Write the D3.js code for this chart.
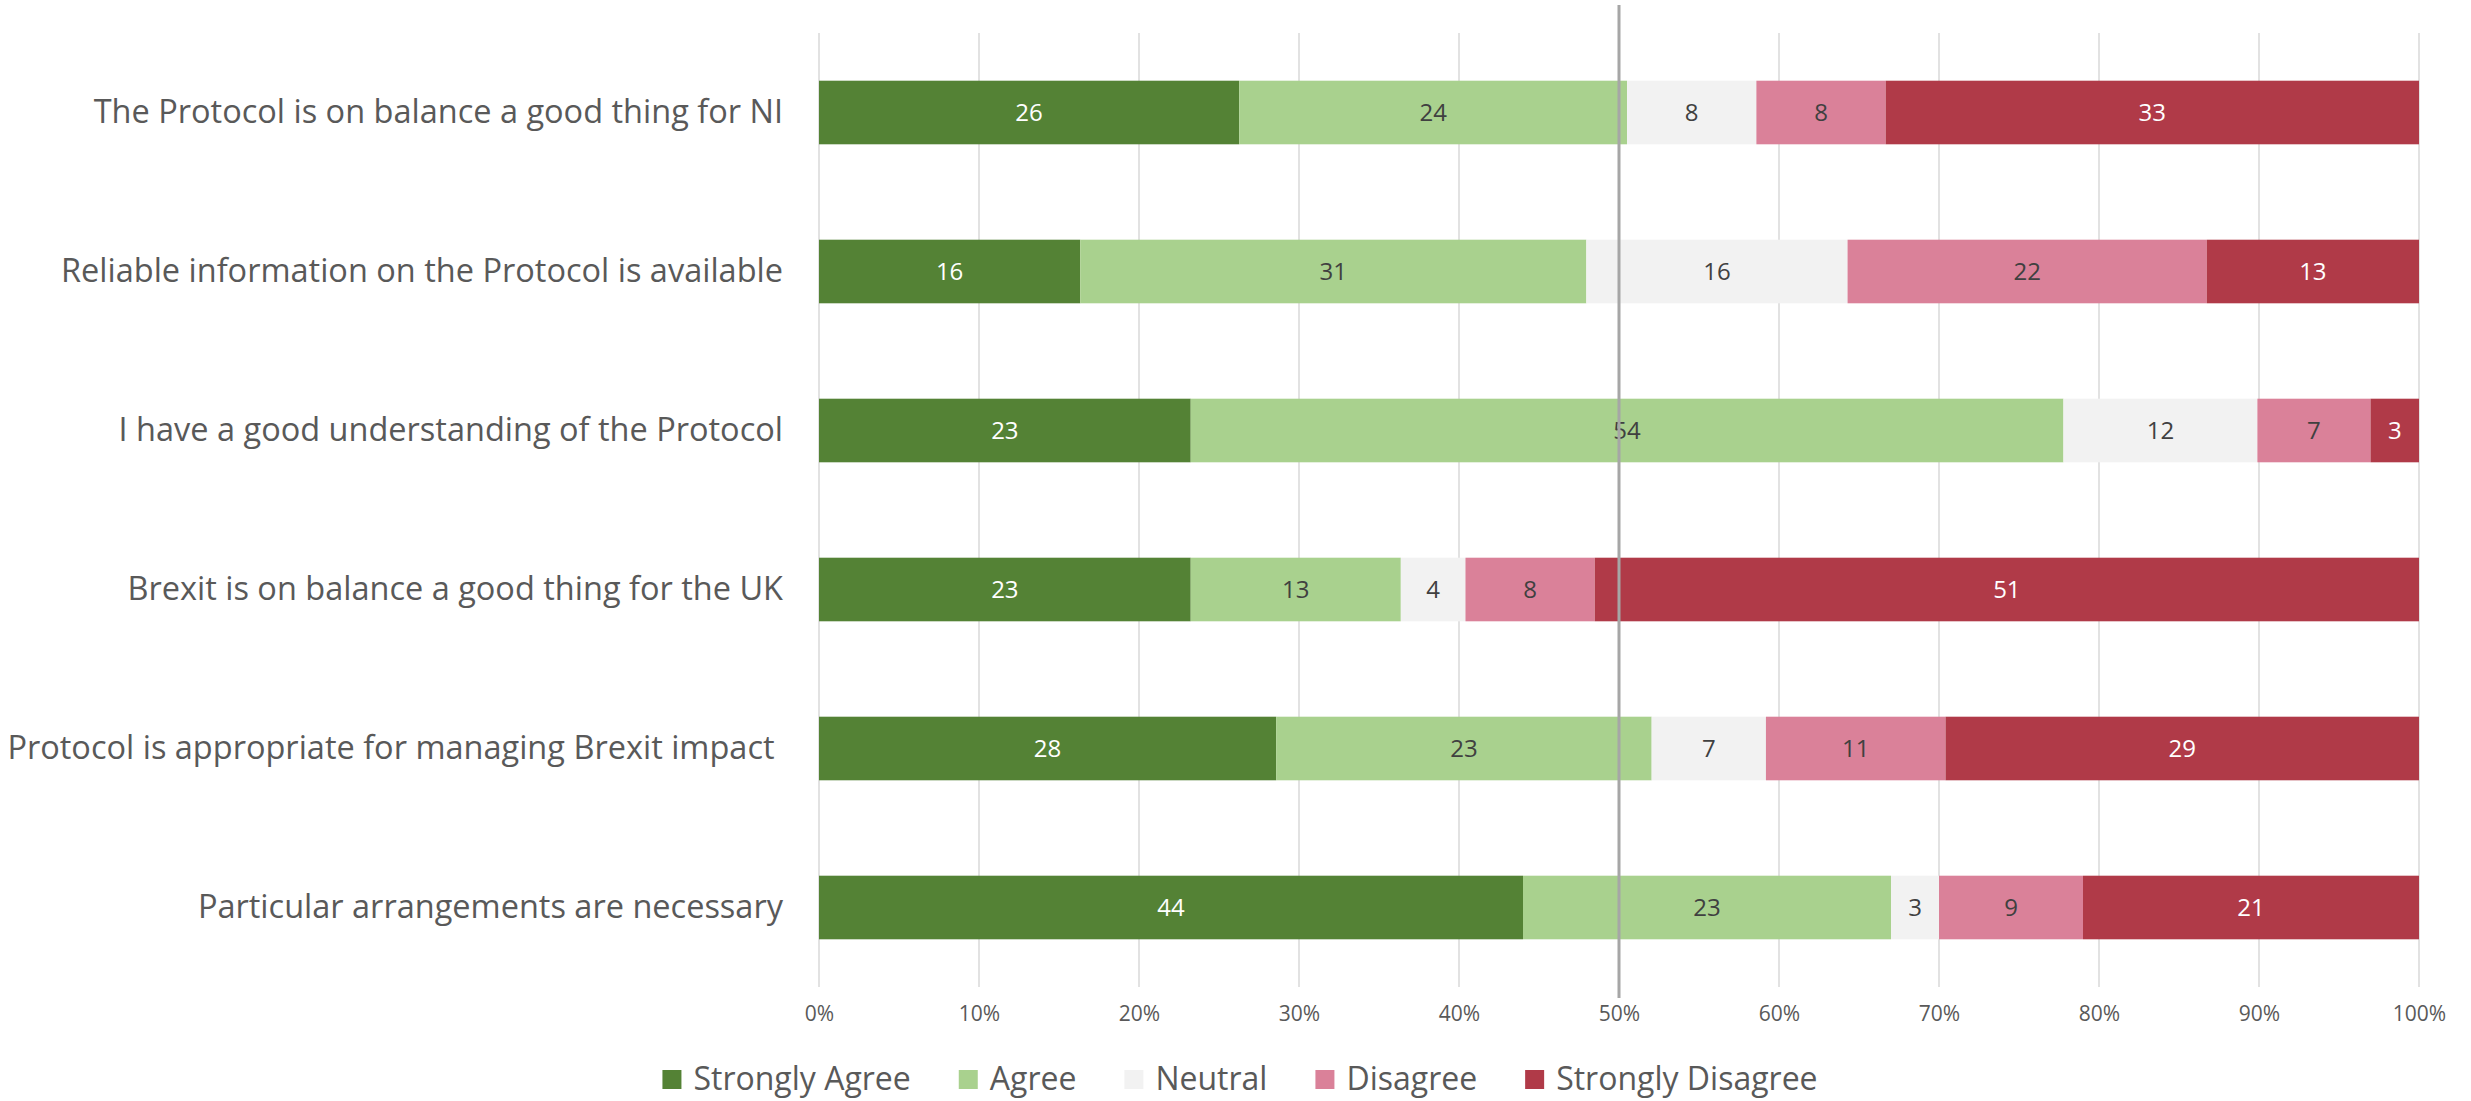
<!DOCTYPE html>
<html><head><meta charset="utf-8">
<script src="https://cdn.jsdelivr.net/npm/d3@7"></script>
<style>
html,body{margin:0;padding:0;background:#fff;}
svg{display:block;}
text{font-family:"Open Sans","Lato",sans-serif;}
</style></head>
<body>
<svg id="chart" width="2471" height="1101"></svg>
<script>
const categories = [
  "The Protocol is on balance a good thing for NI",
  "Reliable information on the Protocol is available",
  "I have a good understanding of the Protocol",
  "Brexit is on balance a good thing for the UK",
  "Protocol is appropriate for managing Brexit impact ",
  "Particular arrangements are necessary"
];
const seriesNames = ["Strongly Agree","Agree","Neutral","Disagree","Strongly Disagree"];
const stronglyAgree    = [26,16,23,23,28,44];
const agree            = [24,31,54,13,23,23];
const neutral          = [8,16,12,4,7,3];
const disagree         = [8,22,7,8,11,9];
const stronglyDisagree = [33,13,3,51,29,21];
const tickValues = [0,0.1,0.2,0.3,0.4,0.5,0.6,0.7,0.8,0.9,1.0];
const referenceValue = 0.5;

const colors = ["#548235","#A9D18E","#F2F2F2","#DA8199","#B03A48"];
const labelColors = ["#ffffff","#404040","#404040","#404040","#ffffff"];

const seriesArrays = [stronglyAgree, agree, neutral, disagree, stronglyDisagree];
const rows = categories.map((c,i)=>{
  const r = {category:c};
  seriesNames.forEach((s,j)=> r[s] = seriesArrays[j][i]);
  return r;
});

const svg = d3.select("#chart");
const margin = {left:819, right:52, top:33, bottom:114};
const W = 2471, H = 1101;
const x = d3.scaleLinear().domain([0,1]).range([margin.left, W - margin.right]);
const y = d3.scaleBand().domain(categories).range([margin.top, H - margin.bottom])
  .paddingInner(0.6).paddingOuter(0.3);

// gridlines
svg.append("g").selectAll("line").data(tickValues).join("line")
  .attr("x1", d=>x(d)).attr("x2", d=>x(d))
  .attr("y1", margin.top).attr("y2", H - margin.bottom)
  .attr("stroke","#d9d9d9").attr("stroke-width",1.5);

// x axis labels
const xAxis = d3.axisBottom(x).tickValues(tickValues).tickFormat(d3.format(".0%")).tickSize(0).tickPadding(19);
const gx = svg.append("g").attr("transform",`translate(0,${H - margin.bottom})`).call(xAxis);
gx.select(".domain").remove();
gx.selectAll("text").attr("font-size",21).attr("fill","#595959")
  .attr("font-family",'"Open Sans",sans-serif');

// stacks
const stack = d3.stack().keys(seriesNames).offset(d3.stackOffsetExpand);
const stacked = stack(rows);

const layers = svg.append("g").selectAll("g").data(stacked).join("g")
  .attr("fill",(d,i)=>colors[i]);
layers.selectAll("rect").data(d=>d).join("rect")
  .attr("x", d=>x(d[0]))
  .attr("width", d=>x(d[1]) - x(d[0]))
  .attr("y", d=>y(d.data.category))
  .attr("height", y.bandwidth());

// value labels
const lbl = svg.append("g").selectAll("g").data(stacked).join("g");
lbl.each(function(layer, li){
  d3.select(this).selectAll("text").data(layer).join("text")
    .attr("x", d=>(x(d[0])+x(d[1]))/2)
    .attr("y", d=>y(d.data.category) + y.bandwidth()/2)
    .attr("dy","0.35em")
    .attr("text-anchor","middle")
    .attr("font-size",24)
    .attr("fill", labelColors[li])
    .text(d=>d.data[layer.key]);
});

// reference line at 50%
svg.append("line")
  .attr("x1", x(referenceValue)).attr("x2", x(referenceValue))
  .attr("y1", 5).attr("y2", 998)
  .attr("stroke","#a6a6a6").attr("stroke-width",3);

// category labels
const yAxis = d3.axisLeft(y).tickSize(0).tickPadding(36);
const gy = svg.append("g").attr("transform",`translate(${margin.left},0)`).call(yAxis);
gy.select(".domain").remove();
gy.selectAll("text").attr("font-size",32.5).attr("fill","#595959")
  .attr("font-family",'"Open Sans",sans-serif')
  .style("white-space","pre");

// legend
const legend = svg.append("g");
const items = legend.selectAll("g").data(seriesNames).join("g");
items.append("rect").attr("width",19).attr("height",19).attr("y",-9)
  .attr("fill",(d,i)=>colors[i]);
items.append("text").attr("x",31).attr("dy","0.35em").attr("font-size",32)
  .attr("fill","#595959").text(d=>d);
let cx = 0;
const gap = 48;
items.each(function(){
  const w = 31 + this.querySelector("text").getComputedTextLength();
  d3.select(this).attr("transform",`translate(${cx},0)`);
  cx += w + gap;
});
const totalW = cx - gap;
legend.attr("transform",`translate(${1240 - totalW/2},1079)`);
</script>
</body></html>
